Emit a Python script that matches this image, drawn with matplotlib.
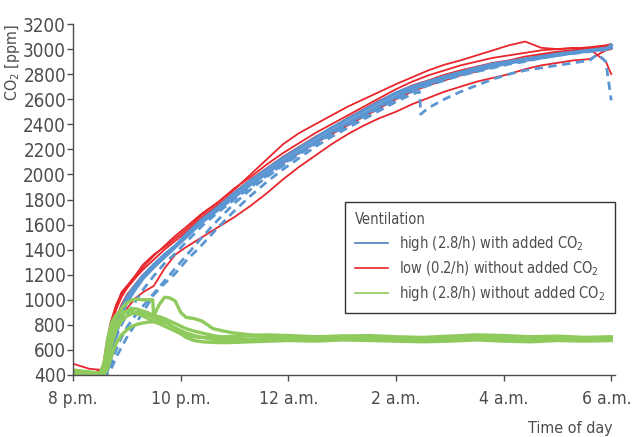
import numpy as np
import matplotlib
matplotlib.use("Agg")
import matplotlib.pyplot as plt
import matplotlib.transforms as mtransforms
from matplotlib.lines import Line2D

plt.rcParams['font.family'] = ['DejaVu Sans']
plt.rcParams['font.stretch'] = 'condensed'
plt.rcParams['mathtext.default'] = 'regular'

# hours since 8 p.m.
t = [0.0, 0.3, 0.55, 0.62, 0.7, 0.8, 0.9, 1.0, 1.15, 1.3, 1.5, 1.7, 1.9, 2.1,
     2.4, 2.7, 3.0, 3.3, 3.6, 3.9, 4.2, 4.5, 4.8, 5.1, 5.4, 5.7, 6.0, 6.3,
     6.6, 6.9, 7.2, 7.5, 7.8, 8.1, 8.4, 8.7, 9.0, 9.3, 9.6, 9.9, 10.0]

# low ventilation (0.2/h) without added CO2
red1 = [405, 402, 408, 470, 600, 740, 850, 930, 1010, 1060, 1110, 1250, 1360, 1420,
        1500, 1580, 1660, 1750, 1850, 1960, 2060, 2150, 2240, 2320, 2390, 2450, 2500, 2560,
        2610, 2660, 2700, 2740, 2770, 2800, 2840, 2870, 2890, 2910, 2920, 2990, 3000]
red2 = [490, 450, 440, 560, 760, 920, 1020, 1090, 1170, 1260, 1350, 1430, 1510, 1580,
        1690, 1780, 1880, 2000, 2120, 2240, 2330, 2400, 2470, 2540, 2600, 2660, 2720, 2775,
        2830, 2875, 2910, 2950, 2990, 3030, 3060, 3010, 3000, 3005, 3015, 3030, 3040]
red3 = [400, 400, 420, 600, 800, 950, 1060, 1110, 1190, 1280, 1360, 1420, 1490, 1560,
        1680, 1780, 1890, 1980, 2080, 2170, 2250, 2330, 2400, 2470, 2540, 2610, 2680, 2740,
        2790, 2830, 2870, 2900, 2930, 2950, 2970, 2990, 3000, 3010, 3000, 2900, 2800]
red4 = [400, 400, 450, 650, 820, 960, 1040, 1100, 1170, 1240, 1320, 1400, 1470, 1540,
        1660, 1760, 1860, 1960, 2050, 2140, 2220, 2300, 2370, 2450, 2520, 2590, 2650, 2710,
        2750, 2795, 2830, 2860, 2890, 2910, 2940, 2960, 2980, 2990, 3000, 3020, 3030]
red5 = [400, 400, 405, 520, 700, 860, 960, 1040, 1120, 1200, 1280, 1360, 1430, 1500,
        1620, 1720, 1820, 1920, 2010, 2090, 2170, 2250, 2320, 2390, 2460, 2530, 2600, 2660,
        2710, 2750, 2790, 2820, 2860, 2890, 2920, 2950, 2970, 2990, 3010, 3020, 3035]

# high ventilation (2.8/h) with added CO2
blue1 = [400, 400, 400, 430, 600, 800, 930, 1020, 1110, 1190, 1280, 1360, 1430, 1520,
         1640, 1740, 1850, 1950, 2040, 2130, 2210, 2290, 2370, 2440, 2510, 2580, 2650, 2700,
         2740, 2780, 2815, 2850, 2880, 2900, 2920, 2940, 2960, 2975, 2990, 3005, 3010]
blue2 = [400, 400, 400, 410, 520, 720, 880, 980, 1080, 1170, 1260, 1340, 1420, 1500,
         1620, 1720, 1820, 1920, 2010, 2100, 2180, 2260, 2340, 2410, 2480, 2550, 2620, 2680,
         2720, 2765, 2800, 2830, 2860, 2890, 2910, 2930, 2950, 2970, 2985, 3000, 3030]
blue_d2 = [400, 400, 400, 400, 480, 600, 700, 780, 870, 950, 1050, 1150, 1250, 1350,
           1500, 1640, 1770, 1880, 1980, 2070, 2160, 2240, 2320, 2390, 2460, 2530, 2600, 2660,
           2710, 2750, 2790, 2820, 2850, 2880, 2900, 2930, 2950, 2965, 2980, 2995, 3000]
blue_d3 = [400, 400, 400, 410, 560, 700, 800, 880, 980, 1080, 1190, 1290, 1370, 1460,
           1590, 1700, 1800, 1900, 1990, 2080, 2170, 2250, 2330, 2400, 2470, 2540, 2610, 2670,
           2720, 2770, 2800, 2840, 2870, 2890, 2915, 2935, 2955, 2970, 2990, 3005, 3015]

t_d1 = [0.0, 0.3, 0.62, 0.7, 0.8, 0.9, 1.0, 1.15, 1.3, 1.5, 1.7, 1.9, 2.1, 2.4, 2.7,
        3.0, 3.3, 3.6, 3.9, 4.2, 4.5, 4.8, 5.1, 5.4, 5.7, 6.0, 6.3, 6.44, 6.46, 6.6,
        6.9, 7.2, 7.5, 7.8, 8.1, 8.4, 8.7, 9.0, 9.3, 9.6, 9.75, 9.9, 10.0]
blue_d1 = [400, 400, 400, 440, 540, 620, 700, 800, 900, 1040, 1130, 1210, 1310, 1440, 1580,
           1710, 1830, 1940, 2040, 2130, 2220, 2300, 2370, 2440, 2510, 2580, 2640, 2660, 2480, 2530,
           2600, 2660, 2710, 2760, 2800, 2830, 2850, 2870, 2890, 2910, 2960, 2900, 2590]

# high ventilation (2.8/h) without added CO2
t_g = [0.0, 0.3, 0.5, 0.58, 0.65, 0.72, 0.8, 0.9, 1.0, 1.1, 1.2, 1.3, 1.4, 1.48, 1.5,
       1.6, 1.7, 1.8, 1.9, 2.0, 2.1, 2.25, 2.4, 2.6, 2.8, 3.0, 3.3, 3.6, 4.0, 4.5,
       5.0, 5.5, 6.0, 6.5, 7.0, 7.5, 8.0, 8.5, 9.0, 9.5, 10.0]
green1 = [440, 425, 415, 480, 650, 770, 860, 930, 975, 1000, 1005, 1000, 1000, 1000, 870,
          960, 1020, 1015, 990, 900, 860, 850, 830, 770, 750, 735, 720, 710, 705, 700,
          710, 700, 690, 695, 700, 705, 695, 700, 705, 695, 700]
green2 = [420, 415, 410, 440, 560, 700, 800, 870, 910, 930, 925, 910, 895, 880, 875,
          865, 850, 830, 810, 790, 770, 750, 735, 715, 700, 690, 685, 690, 695, 690,
          700, 695, 685, 690, 695, 700, 690, 695, 700, 690, 695]
green3 = [410, 405, 405, 420, 520, 650, 760, 830, 870, 890, 895, 890, 880, 860, 855,
          845, 835, 800, 760, 730, 700, 675, 665, 660, 658, 660, 665, 670, 675, 670,
          680, 675, 670, 665, 670, 680, 670, 665, 675, 670, 675]
green4 = [410, 405, 400, 405, 460, 560, 650, 720, 760, 790, 805, 815, 822, 825, 825,
          823, 820, 800, 775, 755, 735, 715, 700, 685, 680, 680, 685, 690, 690, 685,
          695, 690, 680, 685, 690, 695, 685, 690, 695, 685, 690]
green5 = [430, 420, 410, 500, 700, 820, 880, 900, 910, 905, 890, 870, 850, 830, 825,
          810, 790, 770, 750, 730, 715, 705, 700, 700, 705, 710, 715, 720, 715, 705,
          710, 715, 705, 700, 710, 720, 715, 705, 710, 700, 705]

tick_hours = [0, 2, 4, 6, 8, 10]
tick_labels = ['8 p.m.', '10 p.m.', '12 a.m.', '2 a.m.', '4 a.m.', '6 a.m.']
legend_labels = ['high (2.8/h) with added CO$_2$',
                 'low (0.2/h) without added CO$_2$',
                 'high (2.8/h) without added CO$_2$']

red = '#e8262b'
blue = '#5a96d2'
green = '#8fca5c'
grey = '#4d4d4d'

fig = plt.figure(figsize=(6.33, 4.37), dpi=100)
ax = fig.add_axes([73 / 633, 62 / 437, 542 / 633, 351 / 437])

for s in [red1, red2, red3, red4, red5]:
    ax.plot(t, s, color=red, lw=1.3)
ax.plot(t, blue1, color=blue, lw=2.4)
ax.plot(t, blue2, color=blue, lw=2.4)
ax.plot(t, blue_d2, color=blue, lw=2.0, dashes=(3, 2))
ax.plot(t, blue_d3, color=blue, lw=2.0, dashes=(3, 2))
ax.plot(t_d1, blue_d1, color=blue, lw=2.0, dashes=(3, 2))
for s in [green1, green2, green3, green4, green5]:
    ax.plot(t_g, s, color=green, lw=2.4)

ax.set_xlim(0, 10.07)
ax.set_ylim(400, 3200)
ax.set_yticks(np.arange(400, 3201, 200))
ax.set_xticks(tick_hours)
ax.set_xticklabels(tick_labels)
for sp in ['top', 'right']:
    ax.spines[sp].set_visible(False)
for sp in ['left', 'bottom']:
    ax.spines[sp].set_color(grey)
    ax.spines[sp].set_linewidth(1.0)
ax.tick_params(axis='both', colors=grey, length=4, width=1.0)
ax.tick_params(axis='y', pad=1, labelsize=13.5)
ax.tick_params(axis='x', pad=7, labelsize=12.5)
# nudge last x label so it stays inside the figure
last = ax.get_xticklabels()[-1]
last.set_transform(last.get_transform() + mtransforms.ScaledTranslation(-4 / 100, 0, fig.dpi_scale_trans))

handles = [Line2D([], [], color='#4f7fc0', lw=1.2),
           Line2D([], [], color=red, lw=1.2),
           Line2D([], [], color=green, lw=1.2)]
leg = ax.legend(handles, legend_labels, title='Ventilation', loc='upper right',
                bbox_to_anchor=(1.0, 0.493), borderaxespad=0, fontsize=10.5, title_fontsize=10.5,
                alignment='left', fancybox=False, framealpha=1, edgecolor='#333333',
                handlelength=2.3, handletextpad=0.7, labelspacing=0.45, borderpad=0.7)
leg.get_frame().set_linewidth(1.0)
for txt in leg.get_texts():
    txt.set_color(grey)
leg.get_title().set_color(grey)

fig.text(12 / 633, 1 - 62 / 437, 'CO$_2$ [ppm]', rotation=90, ha='center', va='center',
         fontsize=11.5, color=grey)
fig.text(613 / 633, 1 - 428 / 437, 'Time of day', ha='right', va='center',
         fontsize=11.5, color=grey)

fig.savefig('out.png', dpi=100)
